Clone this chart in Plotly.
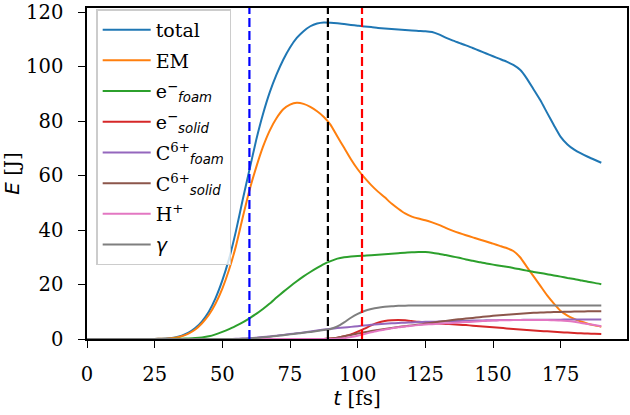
import plotly.graph_objects as go

t = [0, 20, 22.5, 25, 27.5, 30, 32.5, 35, 37.5, 40,
     42.5, 45, 47.5, 50, 52.5, 55, 57.5, 60, 62.5, 65,
     67.5, 70, 72.5, 75, 77.5, 80, 82.5, 85, 87.5, 90,
     92.5, 95, 97.5, 100, 102.5, 105, 107.5, 110, 112.5, 115,
     117.5, 120, 122.5, 125, 127.5, 130, 132.5, 135, 137.5, 140,
     142.5, 145, 147.5, 150, 152.5, 155, 157.5, 160, 162.5, 165,
     167.5, 170, 172.5, 175, 177.5, 180, 182.5, 185, 187.5, 190]

total = [0, 0, 0, 0.02, 0.1, 0.25, 0.6, 1.2, 2.3, 4.0,
         6.5, 10, 15, 21.5, 29.5, 39.5, 51, 62, 73, 82.5,
         90.5, 97, 102.5, 107, 110.5, 113, 114.8, 115.8, 116.2, 116.1,
         115.9, 115.6, 115.3, 115, 114.7, 114.5, 114.2, 114, 113.8, 113.6,
         113.4, 113.2, 113.1, 113, 112.7, 111.8, 110.6, 109.6, 108.7, 107.8,
         106.8, 105.8, 104.8, 103.8, 102.8, 101.8, 100.6, 98.8, 95.6, 91.6,
         87.6, 83, 78.5, 74.2, 71.4, 69.5, 68.1, 66.9, 65.8, 64.7]

em = [0, 0, 0, 0.02, 0.08, 0.2, 0.5, 1.0, 2.0, 3.5,
      5.8, 8.8, 13, 18.5, 25.5, 34, 44.5, 54.5, 63, 70.5,
      76.5, 81, 84.3, 86, 86.7, 86.3, 85.2, 83.6, 81.5, 78.6,
      74.3, 70.2, 66, 62.3, 59.2, 56.5, 54.1, 52, 49.7, 47.8,
      46.1, 44.9, 44.2, 43.6, 42.8, 41.9, 40.8, 39.8, 38.9, 38.1,
      37.3, 36.5, 35.8, 35, 34.2, 33.4, 32.3, 30, 26.5, 23,
      19.5, 16, 13, 10.3, 8.6, 7.4, 6.4, 5.6, 5.0, 4.5]

e_foam = [0, 0, 0, 0, 0, 0, 0.05, 0.1, 0.2, 0.35,
          0.6, 1.0, 1.7, 2.6, 3.6, 4.8, 6.1, 7.6, 9.2, 11,
          13, 15.2, 17.3, 19.3, 21.2, 23, 24.6, 26.1, 27.5, 28.6,
          29.5, 30, 30.3, 30.5, 30.6, 30.7, 30.9, 31.1, 31.3, 31.5,
          31.7, 31.8, 31.9, 31.9, 31.7, 31.3, 30.8, 30.3, 29.8, 29.2,
          28.7, 28.2, 27.7, 27.3, 26.9, 26.5, 26.1, 25.6, 25.1, 24.6,
          24.2, 23.8, 23.3, 22.9, 22.4, 22, 21.5, 21, 20.6, 20.1]

e_solid = [0, 0, 0, 0, 0, 0, 0, 0, 0, 0,
           0, 0, 0, 0, 0, 0, 0, 0, 0, 0,
           0, 0, 0, 0, 0, 0, 0, 0, 0, 0.2,
           0.5, 1.0, 1.7, 2.7, 3.8, 5.0, 6.0, 6.6, 6.9, 7.0,
           6.9, 6.6, 6.3, 6.1, 5.9, 5.7, 5.55, 5.4, 5.25, 5.1,
           4.9, 4.7, 4.5, 4.3, 4.1, 3.9, 3.7, 3.5, 3.3, 3.1,
           2.95, 2.8, 2.65, 2.5, 2.35, 2.2, 2.1, 2.0, 1.9, 1.8]

c_foam = [0, 0, 0, 0, 0, 0, 0, 0, 0, 0,
          0, 0, 0, 0, 0.02, 0.05, 0.15, 0.3, 0.5, 0.7,
          0.95, 1.2, 1.5, 1.8, 2.1, 2.4, 2.75, 3.1, 3.45, 3.75,
          4.0, 4.2, 4.45, 4.7, 4.95, 5.2, 5.4, 5.6, 5.75, 5.9,
          6.0, 6.1, 6.2, 6.3, 6.35, 6.4, 6.5, 6.6, 6.65, 6.7,
          6.75, 6.8, 6.85, 6.9, 6.95, 7.0, 7.0, 7.0, 7.05, 7.1,
          7.1, 7.1, 7.1, 7.1, 7.15, 7.2, 7.2, 7.2, 7.2, 7.2]

c_solid = [0, 0, 0, 0, 0, 0, 0, 0, 0, 0,
           0, 0, 0, 0, 0, 0, 0, 0, 0, 0,
           0, 0, 0, 0, 0, 0, 0, 0, 0, 0.2,
           0.5, 1.0, 1.5, 2.0, 2.45, 2.9, 3.3, 3.7, 4.05, 4.4,
           4.7, 5.0, 5.3, 5.6, 5.95, 6.3, 6.65, 7.0, 7.25, 7.5,
           7.75, 8.0, 8.25, 8.5, 8.7, 8.9, 9.1, 9.3, 9.45, 9.6,
           9.7, 9.8, 9.9, 9.95, 10.0, 10.05, 10.1, 10.15, 10.2, 10.2]

h_plus = [0, 0, 0, 0, 0, 0, 0, 0, 0, 0,
          0, 0, 0, 0, 0, 0, 0, 0, 0, 0,
          0, 0, 0, 0, 0, 0, 0, 0, 0, 0,
          0.1, 0.3, 0.7, 1.2, 1.8, 2.5, 3.0, 3.5, 3.9, 4.3,
          4.6, 4.9, 5.1, 5.3, 5.45, 5.6, 5.75, 5.9, 6.05, 6.2,
          6.35, 6.5, 6.65, 6.8, 6.85, 6.9, 6.95, 7.0, 7.0, 7.0,
          7.0, 7.0, 6.9, 6.8, 6.6, 6.3, 5.9, 5.5, 5.1, 4.7]

gamma = [0, 0, 0, 0, 0, 0, 0, 0, 0, 0,
         0, 0, 0, 0, 0, 0, 0.1, 0.2, 0.4, 0.6,
         0.85, 1.1, 1.4, 1.7, 2.0, 2.3, 2.6, 2.9, 3.3, 3.7,
         4.6, 6.1, 7.8, 9.2, 10.3, 11.0, 11.5, 11.8, 12.0, 12.2,
         12.25, 12.3, 12.3, 12.3, 12.3, 12.3, 12.3, 12.3, 12.3, 12.3,
         12.3, 12.3, 12.3, 12.3, 12.3, 12.3, 12.3, 12.3, 12.3, 12.3,
         12.3, 12.3, 12.3, 12.3, 12.3, 12.3, 12.3, 12.3, 12.3, 12.3]

SUBF = "<span style=\"font-family:'DejaVu Sans';font-style:italic\">%s</span>"
names = ["total", "EM",
         "e<sup>−</sup><sub>" + SUBF % "foam" + "</sub>",
         "e<sup>−</sup><sub>" + SUBF % "solid" + "</sub>",
         "C<sup>6+</sup><sub>" + SUBF % "foam" + "</sub>",
         "C<sup>6+</sup><sub>" + SUBF % "solid" + "</sub>",
         "H<sup>+</sup>",
         SUBF % "γ"]
series = [total, em, e_foam, e_solid, c_foam, c_solid, h_plus, gamma]
colors = ["#1f77b4", "#ff7f0e", "#2ca02c", "#d62728", "#9467bd", "#8c564b", "#e377c2", "#7f7f7f"]

vline_t = [60, 89, 101.6]
vline_colors = ["#0000ff", "#000000", "#ff0000"]

for s in series:
    assert len(s) == len(t), len(s)

fig = go.Figure()
for i, (name, ys, c) in enumerate(zip(names, series, colors)):
    fig.add_trace(go.Scatter(x=t, y=ys, mode="lines", name=name, legendgroup="g%d" % i,
                             line=dict(color=c, width=2, shape="spline", smoothing=0.5)))

for xv, c in zip(vline_t, vline_colors):
    fig.add_shape(type="line", xref="x", yref="paper", x0=xv, x1=xv, y0=0, y1=1,
                  line=dict(color=c, width=2.2, dash="9px,4px"), layer="above")

font_serif = "DejaVu Serif"
axis_common = dict(showline=True, linecolor="black", linewidth=1.5, mirror=True,
                   ticks="outside", ticklen=7, tickwidth=1.3, tickcolor="black",
                   showgrid=False, zeroline=False, ticklabeloverflow="allow",
                   automargin=False,
                   tickfont=dict(family=font_serif, size=19.5, color="black"))

fig.update_layout(
    width=630, height=415,
    margin=dict(l=87, r=3, t=8, b=76),
    paper_bgcolor="white", plot_bgcolor="white",
    xaxis=dict(range=[0, 199.5], tickvals=[0, 25, 50, 75, 100, 125, 150, 175],
               ticklabelstandoff=10,
               title=dict(text="<span style=\"font-family:'DejaVu Sans';font-style:italic\">t</span> [fs]",
                          font=dict(family=font_serif, size=20, color="black"), standoff=6),
               **axis_common),
    yaxis=dict(range=[0, 121.5], tickvals=[0, 20, 40, 60, 80, 100, 120],
               ticklabelstandoff=11,
               title=dict(text="<span style=\"font-family:'DejaVu Sans';font-style:italic\">E</span> [J]",
                          font=dict(family=font_serif, size=20, color="black"), standoff=4),
               **axis_common),
    legend=dict(x=0.017, y=0.996, xanchor="left", yanchor="top",
                bgcolor="rgba(255,255,255,0.8)", bordercolor="#cccccc", borderwidth=1.5,
                font=dict(family=font_serif, size=19, color="black"),
                tracegroupgap=3, itemwidth=48),
    showlegend=True,
)

fig.write_html("out.html")
